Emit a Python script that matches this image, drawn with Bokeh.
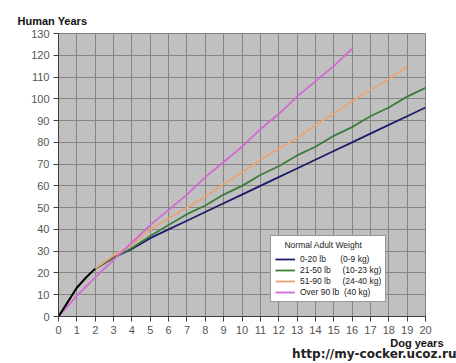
from bokeh.plotting import figure
from bokeh.models import Range1d, FixedTicker, Legend, LegendItem, Title
from bokeh.embed import file_html
from bokeh.resources import INLINE

# ---- data ----
early_x = [0, 0.5, 1, 1.5, 2]
early_y = [0, 6.6, 13.2, 17.9, 22]

years_small = list(range(2, 21))
small = [22, 27, 31, 36, 40, 44, 48, 52, 56, 60, 64, 68, 72, 76, 80, 84, 88, 92, 96]
years_medium = list(range(2, 21))
medium = [22, 27, 31.5, 37, 42, 47, 51, 56, 60, 65, 69, 74, 78, 83, 87, 92, 96, 101, 105]
years_large = list(range(2, 20))
large = [22, 28, 33, 40, 45, 50, 55, 61, 66, 72, 77, 82, 88, 93, 99, 104, 109, 115]
years_giant = list(range(0, 17))
giant = [0, 9.5, 18, 26, 34, 42, 49, 56, 64, 71, 78, 86, 93, 101, 108, 115, 123]

labels = ["0-20 lb      (0-9 kg)", "21-50 lb     (10-23 kg)",
          "51-90 lb     (24-40 kg)", "Over 90 lb  (40 kg)"]
colors = ["#1c1c6a", "#3c7c3c", "#e8a474", "#d468d4"]

x_ticks = list(range(0, 21))
y_ticks = list(range(0, 131, 10))

FONT = "Liberation Sans"

p = figure(frame_width=367, frame_height=283,
           min_border_left=58, min_border_right=31,
           min_border_top=33, min_border_bottom=47,
           x_range=Range1d(0, 20), y_range=Range1d(0, 130),
           output_backend="svg", toolbar_location=None,
           background_fill_color="#c0c0c0", border_fill_color="white")
p.outline_line_color = "#808080"

for ax, ticks in ((p.xaxis, x_ticks), (p.yaxis, y_ticks)):
    ax.ticker = FixedTicker(ticks=ticks)
    ax.axis_line_color = "#404040"
    ax.major_tick_line_color = "#404040"
    ax.minor_tick_line_color = None
    ax.major_tick_out = 5
    ax.major_tick_in = 0
    ax.major_label_text_font = FONT
    ax.major_label_text_font_size = "11px"
    ax.major_label_text_color = "#555555"
    ax.major_label_standoff = 4

p.xgrid.ticker = FixedTicker(ticks=x_ticks)
p.ygrid.ticker = FixedTicker(ticks=y_ticks)
for g in (p.xgrid, p.ygrid):
    g.grid_line_color = "#858585"
    g.grid_line_width = 1

r_small = p.line(years_small, small, line_color=colors[0], line_width=1.8)
r_med = p.line(years_medium, medium, line_color=colors[1], line_width=1.8)
r_large = p.line(years_large, large, line_color=colors[2], line_width=1.8)
r_giant = p.line(years_giant, giant, line_color=colors[3], line_width=1.8)
p.line(early_x, early_y, line_color="black", line_width=2)

legend = Legend(items=[LegendItem(label=labels[0], renderers=[r_small]),
                       LegendItem(label=labels[1], renderers=[r_med]),
                       LegendItem(label=labels[2], renderers=[r_large]),
                       LegendItem(label=labels[3], renderers=[r_giant])],
                location=(212, 14), title="    Normal Adult Weight")
legend.title_text_font = FONT
legend.title_text_font_size = "8.5px"
legend.title_text_font_style = "normal"
legend.title_text_color = "#222222"
legend.title_standoff = 3
legend.label_text_font = FONT
legend.label_text_font_size = "8.5px"
legend.label_text_color = "#222222"
legend.label_height = 11
legend.label_standoff = 5
legend.glyph_width = 20
legend.glyph_height = 10
legend.spacing = 0
legend.padding = 4
legend.margin = 0
legend.border_line_color = "#333333"
legend.border_line_width = 1.5
legend.background_fill_color = "white"
legend.background_fill_alpha = 1
p.add_layout(legend, "center")

p.add_layout(Title(text="Human Years", align="left", offset=-41, standoff=14,
                   text_font=FONT, text_font_size="11px", text_font_style="bold",
                   text_color="#111111"), "above")
p.add_layout(Title(text="Dog years", align="right", offset=-18, standoff=-3,
                   text_font=FONT, text_font_size="11px", text_font_style="bold",
                   text_color="#111111"), "below")
p.add_layout(Title(text="http://my-cocker.ucoz.ru", align="right", offset=-31, standoff=-5,
                   text_font="DejaVu Sans", text_font_size="12px", text_font_style="bold",
                   text_color="#222222"), "below")

open("out.html", "w").write(file_html(p, INLINE))
